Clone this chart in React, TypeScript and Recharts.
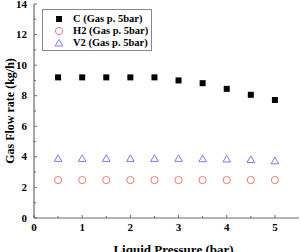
import { ScatterChart, Scatter, XAxis, YAxis } from "recharts"

const pressures = [0.5, 1, 1.5, 2, 2.5, 3, 3.5, 4, 4.5, 5]
const cFlow = [9.2, 9.2, 9.2, 9.2, 9.2, 9.0, 8.82, 8.45, 8.06, 7.72]
const h2Flow = [2.48, 2.48, 2.48, 2.48, 2.48, 2.48, 2.48, 2.48, 2.48, 2.48]
const v2Flow = [3.9, 3.9, 3.9, 3.9, 3.9, 3.9, 3.88, 3.86, 3.83, 3.74]
const seriesNames = ["C (Gas p. 5bar)", "H2 (Gas p. 5bar)", "V2 (Gas p. 5bar)"]
const yTicks = [0, 1, 2, 3, 4, 5, 6, 7, 8, 9, 10, 11, 12, 13, 14]
const xTicks = [0, 0.5, 1, 1.5, 2, 2.5, 3, 3.5, 4, 4.5, 5]

const toPoints = (ys: number[]) => pressures.map((x, i) => ({ x, y: ys[i] }))

const FONT = "'Liberation Serif', 'Times New Roman', serif"
const AXIS = "#6a6a6a"
const RED = "#f07878"
const BLUE = "#7a7af0"

const Square = ({ cx, cy }: any) => <rect x={cx - 3} y={cy - 3} width={6} height={6} fill="#000" />
const Circle = ({ cx, cy }: any) => <circle cx={cx} cy={cy} r={3.6} fill="none" stroke={RED} strokeWidth={1} />
const Triangle = ({ cx, cy }: any) => (
  <path d={`M${cx - 3.8},${cy + 3} L${cx + 3.8},${cy + 3} L${cx},${cy - 3.6} Z`} fill="none" stroke={BLUE} strokeWidth={1} />
)

function YTick({ x, y, payload }: any) {
  const v = payload.value
  const major = v % 2 === 0
  const ax = x + 7
  return (
    <g>
      <line x1={ax} x2={ax + (major ? 3 : 2)} y1={y} y2={y} stroke={AXIS} />
      {major && (
        <text x={x} y={y} dy={3.6} textAnchor="end" fontFamily={FONT} fontWeight="bold" fontSize={11} fill="#000">
          {v}
        </text>
      )}
    </g>
  )
}

function XTick({ x, y, payload }: any) {
  const v = payload.value
  const major = Number.isInteger(v)
  const ay = y - 5
  return (
    <g>
      <line x1={x} x2={x} y1={ay} y2={ay - (major ? 3 : 2)} stroke={AXIS} />
      {major && (
        <text x={x} y={y} dy={8} textAnchor="middle" fontFamily={FONT} fontWeight="bold" fontSize={11} fill="#000">
          {v}
        </text>
      )}
    </g>
  )
}

const markers = [
  <rect x={2} y={2} width={6} height={6} fill="#000" />,
  <circle cx={5} cy={5} r={3.6} fill="none" stroke={RED} />,
  <path d="M1.2,8 L8.8,8 L5,1.4 Z" fill="none" stroke={BLUE} />,
]

export default function App() {
  return (
    <div style={{ position: "absolute", left: 0, top: 0, width: 302, height: 252, overflow: "hidden", background: "#fff" }}>
      <ScatterChart width={302} height={252} margin={{ top: 4, right: 3, bottom: 0, left: 0 }}>
        <XAxis
          type="number"
          dataKey="x"
          domain={[0, 5.5]}
          ticks={xTicks}
          interval={0}
          allowDataOverflow
          tickLine={false}
          tickSize={0}
          tickMargin={5}
          tick={<XTick />}
          height={34}
          axisLine={{ stroke: AXIS, strokeWidth: 1.2 }}
          label={{
            value: "Liquid Pressure (bar)",
            position: "insideBottom",
            offset: -2,
            dx: 7,
            style: { fontFamily: FONT, fontWeight: "bold", fontSize: 13, fill: "#000" },
          }}
        />
        <XAxis xAxisId="top" orientation="top" type="number" domain={[0, 5.5]} tick={false} tickLine={false} height={0} axisLine={{ stroke: AXIS }} />
        <YAxis
          type="number"
          dataKey="y"
          domain={[0, 14]}
          ticks={yTicks}
          interval={0}
          allowDataOverflow
          tickLine={false}
          tickSize={0}
          tickMargin={7}
          tick={<YTick />}
          width={34}
          axisLine={{ stroke: AXIS, strokeWidth: 1.2 }}
          label={{
            value: "Gas Flow rate (kg/h)",
            angle: -90,
            position: "insideLeft",
            offset: 10,
            style: { textAnchor: "middle", fontFamily: FONT, fontWeight: "bold", fontSize: 12, fill: "#000" },
          }}
        />
        <YAxis yAxisId="right" orientation="right" type="number" domain={[0, 14]} tick={false} tickLine={false} width={0} axisLine={{ stroke: AXIS }} />
        <Scatter name={seriesNames[0]} data={toPoints(cFlow)} shape={<Square />} isAnimationActive={false} />
        <Scatter name={seriesNames[1]} data={toPoints(h2Flow)} shape={<Circle />} isAnimationActive={false} />
        <Scatter name={seriesNames[2]} data={toPoints(v2Flow)} shape={<Triangle />} isAnimationActive={false} />
      </ScatterChart>
      <div
        style={{
          position: "absolute",
          left: 42,
          top: 9,
          width: 110,
          height: 42,
          border: "1px solid #888",
          boxSizing: "border-box",
          padding: "3px 0 0 11px",
          fontFamily: FONT,
          fontWeight: "bold",
          fontSize: 10.5,
          color: "#000",
        }}
      >
        {seriesNames.map((name, i) => (
          <div key={name} style={{ display: "flex", alignItems: "center", height: 12, lineHeight: "12px" }}>
            <svg width={10} height={10} style={{ marginRight: 9 }}>
              {markers[i]}
            </svg>
            <span>{name}</span>
          </div>
        ))}
      </div>
    </div>
  )
}
